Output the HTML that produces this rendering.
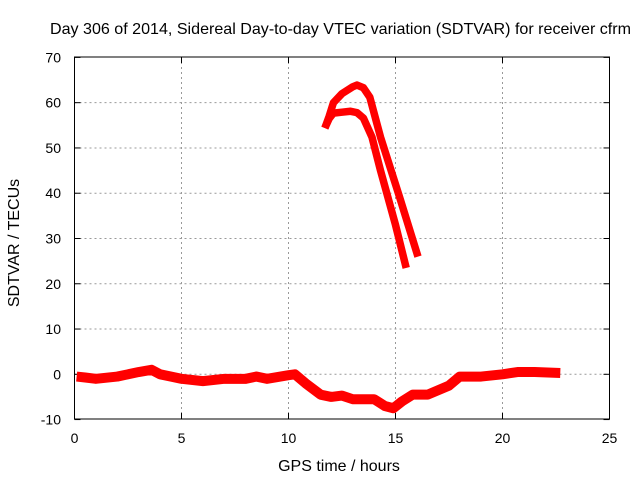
<!DOCTYPE html>
<html><head><meta charset="utf-8"><style>
body{margin:0;background:#fff}
svg{display:block;font-family:"Liberation Sans",sans-serif}
</style></head><body>
<svg id="c" width="640" height="480">
<text x="50" y="34" font-size="16" textLength="581" lengthAdjust="spacingAndGlyphs">Day 306 of 2014, Sidereal Day-to-day VTEC variation (SDTVAR) for receiver cfrm</text>
<text x="339" y="471" font-size="16" text-anchor="middle">GPS time / hours</text>
<text x="19" y="243" font-size="16" text-anchor="middle" transform="rotate(-90 19 243)">SDTVAR / TECUs</text>
<g id="grid"></g><g id="ticks"></g><g id="series"></g>
<rect x="74.5" y="57" width="535" height="362" fill="none" stroke="#000" stroke-width="1"/>
</svg>
<script>
const xTicks=[0,5,10,15,20,25];
const yTicks=[-10,0,10,20,30,40,50,60,70];
const lowX=[0.1,0.5,1,2,3,3.6,4,5,6,7,8,8.5,9,10,10.3,10.8,11.5,12,12.5,13,14,14.5,14.9,15.3,15.8,16.5,17.5,18,19,20,20.7,21.5,22.7];
const lowY=[-0.5,-0.7,-1,-0.5,0.5,1,0,-1,-1.5,-1,-1,-0.5,-1,-0.2,0,-2,-4.5,-5,-4.7,-5.5,-5.5,-7,-7.5,-6,-4.5,-4.5,-2.5,-0.5,-0.5,0,0.5,0.5,0.3];
const outerX=[11.7,11.9,12.1,12.5,13.0,13.2,13.5,13.8,14.3,15.2,16.05];
const outerY=[54.4,57,60,62,63.5,63.9,63.3,61.2,52.4,39,26];
const innerX=[11.7,11.9,12.1,12.5,12.9,13.2,13.5,13.9,14.3,15.0,15.5];
const innerY=[54.4,56.5,57.7,57.9,58.1,57.8,56.6,52.4,45,33,23.5];
const X=v=>74.5+v*21.4, Y=v=>374.3-v*4.527;
const NS='http://www.w3.org/2000/svg';
const g=document.getElementById('grid'),t=document.getElementById('ticks'),s=document.getElementById('series');
function mk(tag,a,p){const e=document.createElementNS(NS,tag);for(const k in a)e.setAttribute(k,a[k]);p.appendChild(e);return e;}
xTicks.forEach(v=>{
 if(v>0&&v<25){const l=mk('line',{x1:X(v),x2:X(v),y1:57,y2:419,stroke:'#999','stroke-dasharray':'2,3'},g);
 
 }
 mk('line',{x1:X(v),x2:X(v),y1:419,y2:413,stroke:'#000'},t);
 mk('line',{x1:X(v),x2:X(v),y1:57,y2:63,stroke:'#000'},t);
 const tx=mk('text',{x:X(v),y:443,'font-size':14,'text-anchor':'middle'},t);tx.textContent=v;
 
 
});
yTicks.forEach(v=>{
 if(v>-10&&v<70){const l=mk('line',{x1:74.5,x2:609.5,y1:Y(v),y2:Y(v),stroke:'#999','stroke-dasharray':'2,3'},g);
 
 }
 mk('line',{x1:74.5,x2:80.5,y1:Y(v),y2:Y(v),stroke:'#000'},t);
 mk('line',{x1:603.5,x2:609.5,y1:Y(v),y2:Y(v),stroke:'#000'},t);
 const tx=mk('text',{x:61,y:Y(v)+5,'font-size':14,'text-anchor':'end'},t);tx.textContent=v;
 
 
});
function line(xs,ys,w,name){
 const p=mk('polyline',{points:xs.map((x,i)=>X(x)+','+Y(ys[i])).join(' '),fill:'none',stroke:'#f00','stroke-width':w,'stroke-linejoin':'round'},s);
 
 
}
line(lowX,lowY,10,'sdtvar-series-low');
line(outerX,outerY,7.5,'sdtvar-series-upper-outer');
line(innerX,innerY,7.5,'sdtvar-series-upper-inner');
</script>
</body></html>
